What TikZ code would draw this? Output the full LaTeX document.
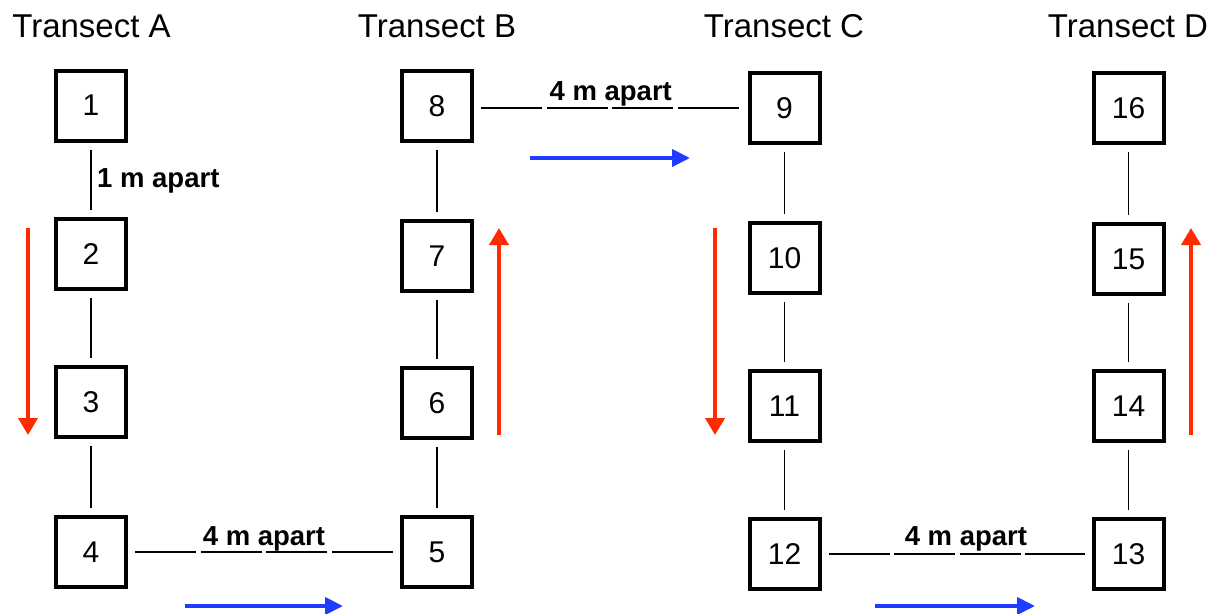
\documentclass[tikz,border=0pt]{standalone}
\usepackage{fontspec}
\setmainfont{Liberation Sans}
\usetikzlibrary{arrows.meta}
\definecolor{arrred}{HTML}{FF2A00}
\definecolor{arrblue}{HTML}{1F3CFF}
\begin{document}
\begin{tikzpicture}[x=1pt,y=-1pt,
  plot/.style={draw=black,line width=4pt,minimum width=70pt,minimum height=70pt,inner sep=0pt,
    font=\fontsize{30}{30}\selectfont},
  title/.style={anchor=base,font=\fontsize{33}{33}\selectfont},
  conn/.style={line width=1.4pt,shorten <=7pt,shorten >=7pt},
  hconn/.style={conn,dash pattern=on 61.1pt off 4.5pt},
  lbl/.style={font=\bfseries\fontsize{27.5}{27.5}\selectfont,inner sep=0pt},
  redarrow/.style={arrred,line width=4pt,-{Triangle[length=17pt,width=19pt]}},
  bluearrow/.style={arrblue,line width=4pt,-{Triangle[length=18pt,width=17pt]}}
]
\useasboundingbox (0,0) rectangle (1215,613);
% titles
\node[title] (tA) at (91.5,37) {Transect A};
\node[title] (tB) at (437,37) {Transect B};
\node[title] (tC) at (784,37) {Transect C};
\node[title] (tD) at (1128,37) {Transect D};
% column A
\node[plot] (n1) at (91,105.5) {1};
\node[plot] (n2) at (91,254) {2};
\node[plot] (n3) at (91,402) {3};
\node[plot] (n4) at (91,552) {4};
% column B
\node[plot] (n8) at (437,106) {8};
\node[plot] (n7) at (437,256) {7};
\node[plot] (n6) at (437,403) {6};
\node[plot] (n5) at (437,552) {5};
% column C
\node[plot] (n9) at (784.5,108) {9};
\node[plot] (n10) at (784.5,258) {10};
\node[plot] (n11) at (784.5,406) {11};
\node[plot] (n12) at (784.5,554) {12};
% column D
\node[plot] (n16) at (1128.5,108) {16};
\node[plot] (n15) at (1128.5,259) {15};
\node[plot] (n14) at (1128.5,406) {14};
\node[plot] (n13) at (1128.5,554) {13};
% vertical connectors
\draw[conn] (n1) -- (n2);
\draw[conn] (n2) -- (n3);
\draw[conn] (n3) -- (n4);
\draw[conn] (n8) -- (n7);
\draw[conn] (n7) -- (n6);
\draw[conn] (n6) -- (n5);
\draw[conn] (n9) -- (n10);
\draw[conn] (n10) -- (n11);
\draw[conn] (n11) -- (n12);
\draw[conn] (n16) -- (n15);
\draw[conn] (n15) -- (n14);
\draw[conn] (n14) -- (n13);
\node[lbl,anchor=west] (l1) at (97,181) {1 m apart};
% horizontal connectors
\draw[hconn] (n4) -- node[lbl,anchor=base,yshift=7pt] (l2) {4 m apart} (n5);
\draw[hconn] (n8.east|-0,108) -- node[lbl,anchor=base,yshift=8pt] (l3) {4 m apart} (n9.west|-0,108);
\draw[hconn] (n12) -- node[lbl,anchor=base,yshift=8.5pt,pos=0.535] (l4) {4 m apart} (n13);
% direction arrows
\draw[redarrow] (28,228) -- (28,435);
\draw[redarrow] (499,435) -- (499,228);
\draw[redarrow] (715,228) -- (715,435);
\draw[redarrow] (1191,435) -- (1191,228);
\draw[bluearrow] (185,606) -- (343,606);
\draw[bluearrow] (530,158) -- (690,158);
\draw[bluearrow] (875,606) -- (1035,606);
\end{tikzpicture}
\end{document}
